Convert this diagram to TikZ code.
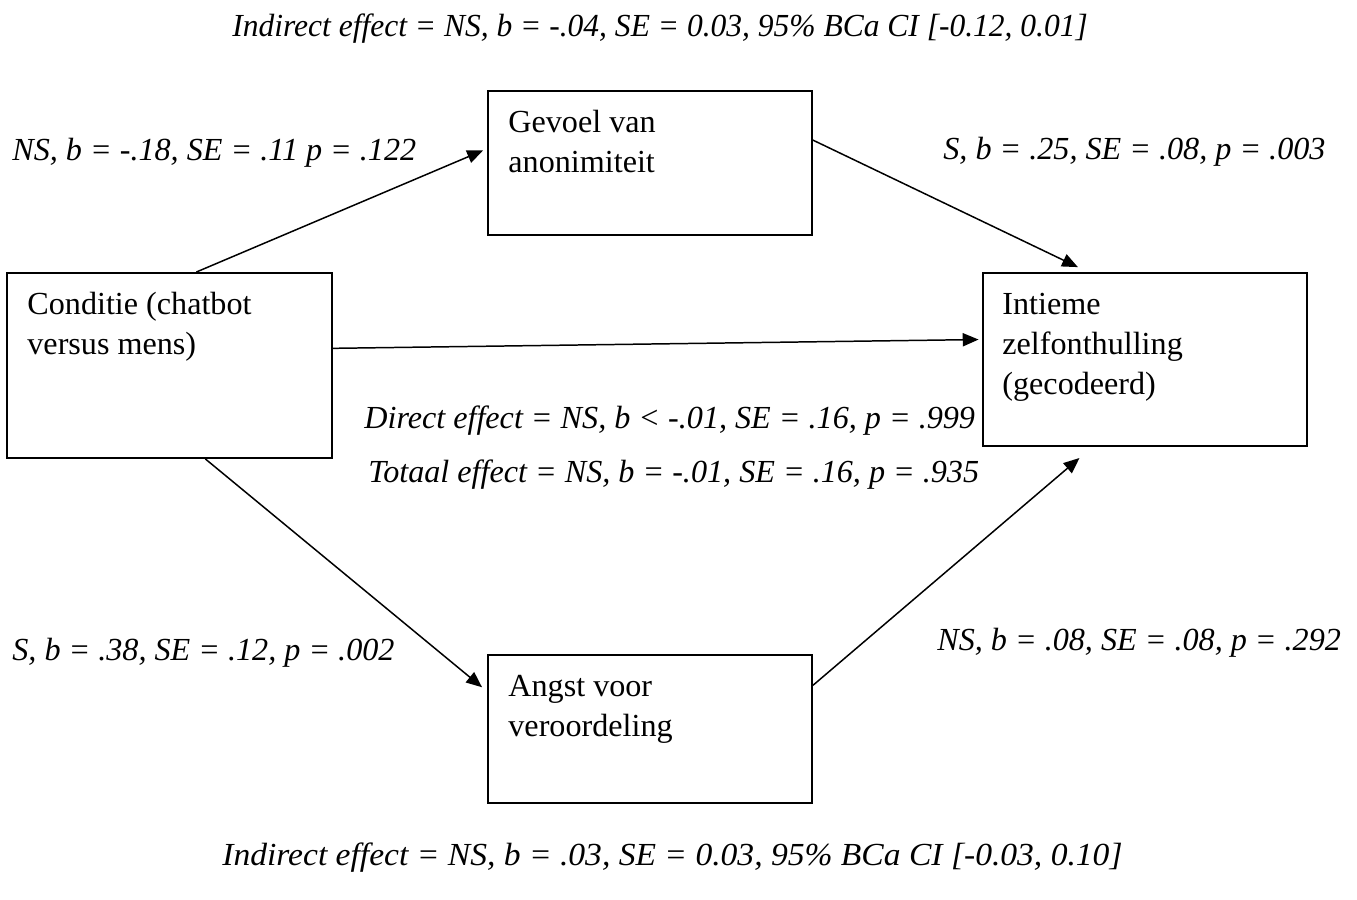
\documentclass[tikz,border=0pt]{standalone}
\usepackage{fontspec}
\setmainfont{Liberation Serif}
\usetikzlibrary{arrows.meta}

\begin{document}
\begin{tikzpicture}[x=0.02cm,y=-0.02cm,
  >={Triangle[length=9pt,width=7.5pt]},
  box/.style={draw,line width=1.1pt,rectangle,inner sep=0pt,minimum width=6.48cm},
  boxtext/.style={anchor=north west,inner sep=0pt,align=left,font=\fontsize{18.3pt}{22.7pt}\selectfont},
  stat/.style={anchor=base west,inner sep=0pt,font=\fontsize{18.3pt}{22.7pt}\selectfont\itshape},
  link/.style={->,line width=0.85pt}]
\useasboundingbox (0,0) rectangle (1357,900);
% boxes
\node[box,minimum width=6.5cm,minimum height=3.7cm](cond) at (169.5,365.5){};
\node[box,minimum height=2.88cm](gevoel) at (650,163){};
\node[box,minimum height=2.96cm](angst) at (650,729){};
\node[box,minimum height=3.46cm](intieme) at (1145,359.5){};
\node[boxtext](condtxt) at ([shift={(21,14)}]cond.north west){\strut Conditie (chatbot\\versus mens)};
\node[boxtext](gevoeltxt) at ([shift={(21,14)}]gevoel.north west){\strut Gevoel van\\anonimiteit};
\node[boxtext](angsttxt) at ([shift={(21,14)}]angst.north west){\strut Angst voor\\veroordeling};
\node[boxtext](intiemetxt) at ([shift={(20,14)}]intieme.north west){\strut Intieme\\zelfonthulling\\(gecodeerd)};
% paths
\draw[link,shorten >=2.5pt](cond.74)--(gevoel.175.4);
\draw[link,shorten >=6.5pt](gevoel.8.1)--(intieme.123.4);
\draw[link,shorten >=2pt](cond.6.9)--(intieme.173.5);
\draw[link,shorten >=3.7pt](cond.-69.7)--(angst.167.1);
\draw[link,shorten >=9.7pt](angst.15.9)--(intieme.-121.5);
% coefficients
\node[stat](topind) at (232,36){\scalebox{0.98}[1]{Indirect effect = NS, b = -.04, SE = 0.03, 95\% BCa CI [-0.12, 0.01]}};
\node[stat](a1) at (12,160){NS, b = -.18, SE = .11 p = .122};
\node[stat](b1) at (943,159){S, b = .25, SE = .08, p = .003};
\node[stat](direct) at (364,428){Direct effect = NS, b < -.01, SE = .16, p = .999};
\node[stat](totaal) at (368,482){Totaal effect = NS, b = -.01, SE = .16, p = .935};
\node[stat](a2) at (12,660){S, b = .38, SE = .12, p = .002};
\node[stat](b2) at (937,650){NS, b = .08, SE = .08, p = .292};
\node[stat](botind) at (222,865){\scalebox{1.044}[1]{Indirect effect = NS, b = .03, SE = 0.03, 95\% BCa CI [-0.03, 0.10]}};
\end{tikzpicture}
\end{document}
